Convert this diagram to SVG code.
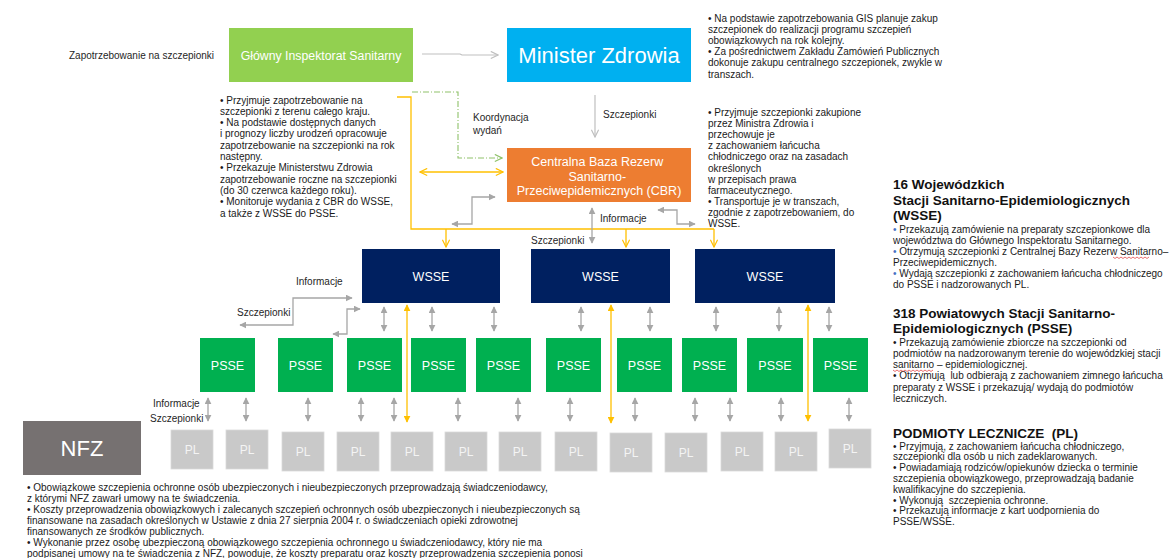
<svg xmlns="http://www.w3.org/2000/svg" width="1171" height="558" viewBox="0 0 1171 558">
  <style>
    text { font-family: "Liberation Sans", Arial, sans-serif; }
    .box-label { fill: #ffffff; text-anchor: middle; }
    .desc { font-size: 10px; fill: #1a1a1a; }
    .lbl { font-size: 10px; fill: #262626; }
    .head { font-size: 13.5px; font-weight: bold; fill: #111111; }
    .blue { fill: #4472c4; }
    .gray-dbl { stroke: #a6a6a6; stroke-width: 1.3; fill: none; marker-start: url(#tri); marker-end: url(#tri); }
    .yel-dbl { stroke: #ffc000; stroke-width: 1.3; fill: none; marker-start: url(#triY); marker-end: url(#triY); }
    .yel { stroke: #ffc000; stroke-width: 1.3; fill: none; }
    .pl rect { fill: #c9c9c9; stroke: #d9d9d9; stroke-width: 0.8; }
    .pl text { fill: #f4f4f4; font-size: 12px; text-anchor: middle; }
    .psse rect { fill: #00b050; }
    .psse text { fill: #ffffff; font-size: 12.5px; text-anchor: middle; }
    .wsse rect { fill: #002060; }
    .wsse text { fill: #ffffff; font-size: 12.5px; text-anchor: middle; }
    .squiggle { stroke: #e03030; stroke-width: 0.7; fill: none; }
  </style>
  <defs>
    <marker id="tri" viewBox="0 0 10 10" refX="9" refY="5" markerWidth="7" markerHeight="7" markerUnits="userSpaceOnUse" orient="auto-start-reverse">
      <path d="M0,0 L10,5 L0,10 z" fill="#a6a6a6"/>
    </marker>
    <marker id="triY" viewBox="0 0 10 10" refX="9" refY="5" markerWidth="7" markerHeight="7" markerUnits="userSpaceOnUse" orient="auto-start-reverse">
      <path d="M0,0 L10,5 L0,10 z" fill="#ffc000"/>
    </marker>
    <marker id="chevG" viewBox="0 0 10 10" refX="9" refY="5" markerWidth="9" markerHeight="9" markerUnits="userSpaceOnUse" orient="auto-start-reverse">
      <path d="M1,1 L9,5 L1,9" fill="none" stroke="#bfbfbf" stroke-width="1.3"/>
    </marker>
    <marker id="chevY" viewBox="0 0 10 10" refX="9" refY="5" markerWidth="9" markerHeight="9" markerUnits="userSpaceOnUse" orient="auto-start-reverse">
      <path d="M1,1 L9,5 L1,9" fill="none" stroke="#ffc000" stroke-width="1.3"/>
    </marker>
    <marker id="chevGr" viewBox="0 0 10 10" refX="9" refY="5" markerWidth="9" markerHeight="9" markerUnits="userSpaceOnUse" orient="auto">
      <path d="M1,1 L9,5 L1,9" fill="none" stroke="#8fc26a" stroke-width="1.3"/>
    </marker>
  </defs>

  <rect width="1171" height="558" fill="#ffffff"/>

  <!-- connectors -->
  <g id="connectors">
    <!-- GIS to Minister -->
    <polyline points="422,54 460,54 462,55 498,55" fill="none" stroke="#bfbfbf" stroke-width="1.2" marker-end="url(#chevG)"/>
    <!-- Minister to CBR -->
    <line x1="595" y1="95" x2="595" y2="137" stroke="#bfbfbf" stroke-width="1.2" marker-end="url(#chevG)"/>
    <!-- coordination, dash-dot -->
    <polyline points="412,92 458,92 458,158 502,158" fill="none" stroke="#8fc26a" stroke-width="1.1" stroke-dasharray="6 2 1 2" marker-end="url(#chevGr)"/>
    <!-- GIS monitoring to CBR -->
    <line x1="420" y1="172" x2="503" y2="172" stroke="#ffc000" stroke-width="1.3" marker-start="url(#chevY)" marker-end="url(#chevY)"/>
    <!-- GIS monitoring bus down to WSSE -->
    <polyline class="yel" points="397,97 411,97 411,229 714,229"/>
    <line class="yel" x1="446" y1="229" x2="446" y2="247" marker-end="url(#chevY)"/>
    <line class="yel" x1="626" y1="229" x2="626" y2="247" marker-end="url(#chevY)"/>
    <line class="yel" x1="714" y1="229" x2="714" y2="247" marker-end="url(#chevY)"/>
    <!-- CBR side elbows -->
    <polyline class="gray-dbl" points="452,224 472,224 472,197 495,197"/>
    <polyline class="gray-dbl" points="658,210 677,210 677,224 695,224"/>
    <line class="gray-dbl" x1="592" y1="208" x2="592" y2="243"/>
    <!-- WSSE left elbows -->
    <polyline class="gray-dbl" points="240,325 293,325 293,298 352,298"/>
    <polyline class="gray-dbl" points="333,334 347,334 347,309 360,309"/>
    <!-- WSSE to PSSE -->
    <line class="gray-dbl" x1="384" y1="307" x2="384" y2="331"/>
    <line class="gray-dbl" x1="432" y1="307" x2="432" y2="331"/>
    <line class="gray-dbl" x1="494" y1="307" x2="494" y2="331"/>
    <line class="gray-dbl" x1="581" y1="307" x2="581" y2="331"/>
    <line class="gray-dbl" x1="650" y1="307" x2="650" y2="331"/>
    <line class="gray-dbl" x1="716" y1="307" x2="716" y2="331"/>
    <line class="gray-dbl" x1="779" y1="307" x2="779" y2="331"/>
    <line class="gray-dbl" x1="829" y1="307" x2="829" y2="331"/>
    <!-- PSSE to PL -->
    <line class="gray-dbl" x1="208" y1="398" x2="208" y2="421"/>
    <line class="gray-dbl" x1="246" y1="398" x2="246" y2="421"/>
    <line class="gray-dbl" x1="308" y1="398" x2="308" y2="421"/>
    <line class="gray-dbl" x1="361" y1="398" x2="361" y2="421"/>
    <line class="gray-dbl" x1="394" y1="398" x2="394" y2="421"/>
    <line class="gray-dbl" x1="458" y1="398" x2="458" y2="421"/>
    <line class="gray-dbl" x1="518" y1="398" x2="518" y2="421"/>
    <line class="gray-dbl" x1="570" y1="398" x2="570" y2="421"/>
    <line class="gray-dbl" x1="635" y1="398" x2="635" y2="421"/>
    <line class="gray-dbl" x1="695" y1="398" x2="695" y2="421"/>
    <line class="gray-dbl" x1="730" y1="398" x2="730" y2="421"/>
    <line class="gray-dbl" x1="781" y1="398" x2="781" y2="421"/>
    <line class="gray-dbl" x1="849" y1="398" x2="849" y2="421"/>
    <!-- WSSE direct to PL -->
    <line class="yel-dbl" x1="407" y1="305" x2="407" y2="422"/>
    <line class="yel-dbl" x1="611" y1="305" x2="611" y2="423"/>
    <line class="yel-dbl" x1="808" y1="305" x2="808" y2="421"/>

    <!-- connector labels -->
    <text class="lbl" x="69" y="58.5">Zapotrzebowanie na szczepionki</text>
    <text class="lbl" x="473" y="121">Koordynacja</text>
    <text class="lbl" x="473" y="134">wydań</text>
    <text class="lbl" x="603" y="117.5">Szczepionki</text>
    <text class="lbl" x="600" y="221.5">Informacje</text>
    <text class="lbl" x="531" y="243.5">Szczepionki</text>
    <text class="lbl" x="296" y="284.5">Informacje</text>
    <text class="lbl" x="237" y="315.5">Szczepionki</text>
    <text class="lbl" x="153" y="406.5">Informacje</text>
    <text class="lbl" x="150" y="421.5">Szczepionki</text>
  </g>

  <!-- top level institutions -->
  <g id="gis">
    <rect x="229" y="28" width="184" height="54" fill="#92d050"/>
    <text class="box-label" x="321" y="60" font-size="12.3">Główny Inspektorat Sanitarny</text>
  </g>
  <g id="mz">
    <rect x="507" y="28" width="184" height="54" fill="#00b0f0"/>
    <text class="box-label" x="599" y="63" font-size="22">Minister Zdrowia</text>
  </g>
  <g id="cbr">
    <rect x="507" y="148" width="184" height="54" fill="#ed7d31"/>
    <text class="box-label" font-size="12.5">
      <tspan x="599" y="166">Centralna Baza Rezerw</tspan>
      <tspan x="599" y="180.5">Sanitarno-</tspan>
      <tspan x="599" y="194.5">Przeciwepidemicznych (CBR)</tspan>
    </text>
  </g>

  <!-- voivodeship stations -->
  <g id="wsse-1" class="wsse"><rect x="362" y="249" width="138" height="54"/><text x="431" y="280.5">WSSE</text></g>
  <g id="wsse-2" class="wsse"><rect x="531" y="249" width="139" height="54"/><text x="600.5" y="280.5">WSSE</text></g>
  <g id="wsse-3" class="wsse"><rect x="695" y="249" width="140" height="54"/><text x="765" y="280.5">WSSE</text></g>

  <!-- county stations -->
  <g id="psse-1" class="psse"><rect x="200" y="338" width="55" height="54"/><text x="227.5" y="369.5">PSSE</text></g>
  <g id="psse-2" class="psse"><rect x="278" y="338" width="55" height="54"/><text x="305.5" y="369.5">PSSE</text></g>
  <g id="psse-3" class="psse"><rect x="347" y="338" width="55" height="54"/><text x="374.5" y="369.5">PSSE</text></g>
  <g id="psse-4" class="psse"><rect x="411" y="338" width="55" height="54"/><text x="438.5" y="369.5">PSSE</text></g>
  <g id="psse-5" class="psse"><rect x="476" y="338" width="55" height="54"/><text x="503.5" y="369.5">PSSE</text></g>
  <g id="psse-6" class="psse"><rect x="546" y="338" width="55" height="54"/><text x="573.5" y="369.5">PSSE</text></g>
  <g id="psse-7" class="psse"><rect x="617" y="338" width="55" height="54"/><text x="644.5" y="369.5">PSSE</text></g>
  <g id="psse-8" class="psse"><rect x="682" y="338" width="55" height="54"/><text x="709.5" y="369.5">PSSE</text></g>
  <g id="psse-9" class="psse"><rect x="747" y="338" width="56" height="54"/><text x="775" y="369.5">PSSE</text></g>
  <g id="psse-10" class="psse"><rect x="813" y="338" width="55" height="54"/><text x="840.5" y="369.5">PSSE</text></g>

  <!-- healthcare providers -->
  <g id="pl-1" class="pl"><rect x="171" y="430" width="42" height="39"/><text x="192" y="454">PL</text></g>
  <g id="pl-2" class="pl"><rect x="226" y="430" width="42" height="39"/><text x="247" y="454">PL</text></g>
  <g id="pl-3" class="pl"><rect x="282" y="432" width="42" height="39"/><text x="303" y="456">PL</text></g>
  <g id="pl-4" class="pl"><rect x="337" y="432" width="42" height="39"/><text x="358" y="456">PL</text></g>
  <g id="pl-5" class="pl"><rect x="391" y="432" width="42" height="39"/><text x="412" y="456">PL</text></g>
  <g id="pl-6" class="pl"><rect x="445" y="432" width="42" height="39"/><text x="466" y="456">PL</text></g>
  <g id="pl-7" class="pl"><rect x="499" y="432" width="42" height="39"/><text x="520" y="456">PL</text></g>
  <g id="pl-8" class="pl"><rect x="555" y="432" width="42" height="39"/><text x="576" y="456">PL</text></g>
  <g id="pl-9" class="pl"><rect x="610" y="433" width="42" height="39"/><text x="631" y="457">PL</text></g>
  <g id="pl-10" class="pl"><rect x="665" y="433" width="42" height="39"/><text x="686" y="457">PL</text></g>
  <g id="pl-11" class="pl"><rect x="721" y="432" width="42" height="39"/><text x="742" y="456">PL</text></g>
  <g id="pl-12" class="pl"><rect x="775" y="432" width="42" height="39"/><text x="796" y="456">PL</text></g>
  <g id="pl-13" class="pl"><rect x="829" y="429" width="42" height="39"/><text x="850" y="453">PL</text></g>

  <!-- national health fund -->
  <g id="nfz">
    <rect x="23" y="421" width="118" height="54" fill="#767171"/>
    <text class="box-label" x="82" y="456" font-size="22">NFZ</text>
  </g>

  <!-- descriptions -->
  <g id="gis-notes">
    <text class="desc">
      <tspan x="220" y="103.5">• Przyjmuje zapotrzebowanie na</tspan>
      <tspan x="220" dy="11.3">szczepionki z terenu całego kraju.</tspan>
      <tspan x="220" dy="11.3">• Na podstawie dostępnych danych</tspan>
      <tspan x="220" dy="11.3">i prognozy liczby urodzeń opracowuje</tspan>
      <tspan x="220" dy="11.3">zapotrzebowanie na szczepionki na rok</tspan>
      <tspan x="220" dy="11.3">następny.</tspan>
      <tspan x="220" dy="11.3">• Przekazuje Ministerstwu Zdrowia</tspan>
      <tspan x="220" dy="11.3">zapotrzebowanie roczne na szczepionki</tspan>
      <tspan x="220" dy="11.3">(do 30 czerwca każdego roku).</tspan>
      <tspan x="220" dy="11.3">• Monitoruje wydania z CBR do WSSE,</tspan>
      <tspan x="220" dy="11.3">a także z WSSE do PSSE.</tspan>
    </text>
  </g>
  <g id="mz-notes">
    <text class="desc">
      <tspan x="708" y="21.5">• Na podstawie zapotrzebowania GIS planuje zakup</tspan>
      <tspan x="708" dy="11.2">szczepionek do realizacji programu szczepień</tspan>
      <tspan x="708" dy="11.2">obowiązkowych na rok kolejny.</tspan>
      <tspan x="708" dy="11.2">• Za pośrednictwem Zakładu Zamówień Publicznych</tspan>
      <tspan x="708" dy="11.2">dokonuje zakupu centralnego szczepionek, zwykle w</tspan>
      <tspan x="708" dy="11.2">transzach.</tspan>
    </text>
  </g>
  <g id="cbr-notes">
    <text class="desc">
      <tspan x="708" y="115.5">• Przyjmuje szczepionki zakupione</tspan>
      <tspan x="708" dy="11.2">przez Ministra Zdrowia i</tspan>
      <tspan x="708" dy="11.2">przechowuje je</tspan>
      <tspan x="708" dy="11.2">z zachowaniem łańcucha</tspan>
      <tspan x="708" dy="11.2">chłodniczego oraz na zasadach</tspan>
      <tspan x="708" dy="11.2">określonych</tspan>
      <tspan x="708" dy="11.2">w przepisach prawa</tspan>
      <tspan x="708" dy="11.2">farmaceutycznego.</tspan>
      <tspan x="708" dy="11.2">• Transportuje je w transzach,</tspan>
      <tspan x="708" dy="11.2">zgodnie z zapotrzebowaniem, do</tspan>
      <tspan x="708" dy="11.2">WSSE.</tspan>
    </text>
  </g>
  <g id="wsse-notes">
    <text class="head">
      <tspan x="893" y="189">16 Wojewódzkich</tspan>
      <tspan x="893" y="205">Stacji Sanitarno-Epidemiologicznych</tspan>
      <tspan x="893" y="220">(WSSE)</tspan>
    </text>
    <text class="desc">
      <tspan x="893" y="232.5"><tspan class="blue">•</tspan> Przekazują zamówienie na preparaty szczepionkowe dla</tspan>
      <tspan x="893" dy="11">województwa do Głównego Inspektoratu Sanitarnego.</tspan>
      <tspan x="893" dy="11"><tspan class="blue">•</tspan> Otrzymują szczepionki z Centralnej Bazy Rezerw Sanitarno–</tspan>
      <tspan x="893" dy="11">Przeciwepidemicznych.</tspan>
      <tspan x="893" dy="11"><tspan class="blue">•</tspan> Wydają szczepionki z zachowaniem łańcucha chłodniczego</tspan>
      <tspan x="893" dy="11">do PSSE i nadzorowanych PL.</tspan>
    </text>
    <path class="squiggle" d="M1113,257 l2,1.5 l2,-1.5 l2,1.5 l2,-1.5 l2,1.5 l2,-1.5 l2,1.5 l2,-1.5 l2,1.5 l2,-1.5 l2,1.5 l2,-1.5 l2,1.5 l2,-1.5 l2,1.5 l2,-1.5 l2,1.5 l2,-1.5"/>
  </g>
  <g id="psse-notes">
    <text class="head">
      <tspan x="893" y="318">318 Powiatowych Stacji Sanitarno-</tspan>
      <tspan x="893" y="333">Epidemiologicznych (PSSE)</tspan>
    </text>
    <text class="desc">
      <tspan x="893" y="345.5">• Przekazują zamówienie zbiorcze na szczepionki od</tspan>
      <tspan x="893" dy="11.3">podmiotów na nadzorowanym terenie do wojewódzkiej stacji</tspan>
      <tspan x="893" dy="11.3">sanitarno – epidemiologicznej.</tspan>
      <tspan x="893" dy="11.3">• Otrzymują&#160; lub odbierają z zachowaniem zimnego łańcucha</tspan>
      <tspan x="893" dy="11.3">preparaty z WSSE i przekazują/ wydają do podmiotów</tspan>
      <tspan x="893" dy="11.3">leczniczych.</tspan>
    </text>
    <path class="squiggle" d="M893,370 l2,1.5 l2,-1.5 l2,1.5 l2,-1.5 l2,1.5 l2,-1.5 l2,1.5 l2,-1.5 l2,1.5 l2,-1.5 l2,1.5 l2,-1.5 l2,1.5 l2,-1.5 l2,1.5 l2,-1.5 l2,1.5 l2,-1.5 l2,1.5 l2,-1.5"/>
  </g>
  <g id="pl-notes">
    <text class="head" x="893" y="438">PODMIOTY LECZNICZE&#160; (PL)</text>
    <text class="desc">
      <tspan x="893" y="449.5">• Przyjmują, z zachowaniem łańcucha chłodniczego,</tspan>
      <tspan x="893" dy="10.8">szczepionki dla osób u nich zadeklarowanych.</tspan>
      <tspan x="893" dy="10.8">• Powiadamiają rodziców/opiekunów dziecka o terminie</tspan>
      <tspan x="893" dy="10.8">szczepienia obowiązkowego, przeprowadzają badanie</tspan>
      <tspan x="893" dy="10.8">kwalifikacyjne do szczepienia.</tspan>
      <tspan x="893" dy="10.8">• Wykonują&#160; szczepienia ochronne.</tspan>
      <tspan x="893" dy="10.8">• Przekazują informacje z kart uodpornienia do</tspan>
      <tspan x="893" dy="10.8">PSSE/WSSE.</tspan>
    </text>
  </g>
  <g id="nfz-notes">
    <text class="desc">
      <tspan x="27" y="490.5">• Obowiązkowe szczepienia ochronne osób ubezpieczonych i nieubezpieczonych przeprowadzają świadczeniodawcy,</tspan>
      <tspan x="27" dy="11">z którymi NFZ zawarł umowy na te świadczenia.</tspan>
      <tspan x="27" dy="11">• Koszty przeprowadzenia obowiązkowych i zalecanych szczepień ochronnych osób ubezpieczonych i nieubezpieczonych są</tspan>
      <tspan x="27" dy="11">finansowane na zasadach określonych w Ustawie z dnia 27 sierpnia 2004 r. o świadczeniach opieki zdrowotnej</tspan>
      <tspan x="27" dy="11">finansowanych ze środków publicznych.</tspan>
      <tspan x="27" dy="11">• Wykonanie przez osobę ubezpieczoną obowiązkowego szczepienia ochronnego u świadczeniodawcy, który nie ma</tspan>
      <tspan x="27" dy="11">podpisanej umowy na te świadczenia z NFZ, powoduje, że koszty preparatu oraz koszty przeprowadzenia szczepienia ponosi</tspan>
    </text>
  </g>
</svg>
